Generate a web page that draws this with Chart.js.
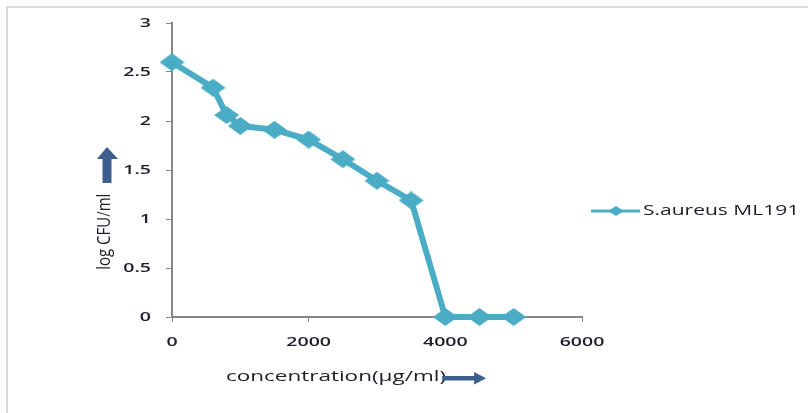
<!DOCTYPE html>
<html>
<head>
<meta charset="utf-8">
<script src="https://cdn.jsdelivr.net/npm/chart.js@4.4.1/dist/chart.umd.min.js"></script>
<style>
  html, body { margin: 0; padding: 0; background: #fff; }
  #wrap { position: relative; width: 808px; height: 413px; }
  canvas { display: block; }
</style>
</head>
<body>
<div id="wrap"><canvas id="chart" width="808" height="413"></canvas></div>
<script>
// data
const concentrations = [0, 600, 800, 1000, 1500, 2000, 2500, 3000, 3500, 4000, 4500, 5000];
const logCfu = [2.6, 2.34, 2.06, 1.95, 1.91, 1.81, 1.61, 1.39, 1.19, 0, 0, 0];
const seriesName = 'S.aureus ML191';
const xTickLabels = [0, 2000, 4000, 6000];
const yTickLabels = [0, 0.5, 1, 1.5, 2, 2.5, 3];
const xTitle = 'concentration(µg/ml)';
const yTitle = 'log CFU/ml';

const lineColor = '#4bacc6';
const arrowColor = '#3d5f8f';
const textColor = '#1e1e2c';
const axisColor = '#868686';
const fontFamily = '"Open Sans", "Liberation Sans", sans-serif';
// the original picture is stretched sideways, so text is drawn wider than normal
const textStretch = 1.5;

// wide diamond used as point style
function makeDiamond(w, h, color) {
    const cv = document.createElement('canvas');
    cv.width = w;
    cv.height = h;
    const g = cv.getContext('2d');
    g.fillStyle = color;
    g.beginPath();
    g.moveTo(w / 2, 0);
    g.lineTo(w, h / 2);
    g.lineTo(w / 2, h);
    g.lineTo(0, h / 2);
    g.closePath();
    g.fill();
    return cv;
}

// stretch every fillText around its anchor point while the chart draws
const stretch = {
    id: 'stretch',
    beforeDraw(chart) {
        const c = chart.ctx;
        if (c._plainFill) return;
        c._plainFill = c.fillText;
        c.fillText = function (t, x, y) {
            if (c._noStretch) return c._plainFill(t, x, y);
            c.save();
            c.translate(x, y);
            c.scale(textStretch, 1);
            c._plainFill(t, 0, 0);
            c.restore();
        };
    }
};

// frame, axis titles with arrows, and legend
const decor = {
    id: 'decor',
    beforeDraw(chart) {
        const c = chart.ctx;
        c.save();
        c.strokeStyle = '#d9d9d9';
        c.lineWidth = 2;
        c.beginPath();
        c.moveTo(7, 413);
        c.lineTo(7, 7);
        c.lineTo(808, 7);
        c.stroke();
        c.restore();
    },
    afterDraw(chart) {
        const c = chart.ctx;
        c.save();
        c.fillStyle = textColor;

        // x title
        c.font = '15px ' + fontFamily;
        c.textAlign = 'center';
        c.textBaseline = 'middle';
        const xt = chart.scales.x.getPixelForValue(2400);
        c.fillText(xTitle, xt, 377);
        const xEnd = xt + c.measureText(xTitle).width * textStretch / 2;

        // y title (rotated, thickened sideways)
        c.save();
        c.translate(105, chart.scales.y.getPixelForValue(0.87));
        c.rotate(-Math.PI / 2);
        c.scale(1, 1.2);
        c.font = '15px ' + fontFamily;
        c._noStretch = true;
        c.fillText(yTitle, 0, 0);
        c._noStretch = false;
        c.restore();

        // arrows
        c.fillStyle = arrowColor;
        c.beginPath();
        c.rect(xEnd - 4, 376, 34, 4.5);
        c.fill();
        c.beginPath();
        c.moveTo(xEnd + 28, 372);
        c.lineTo(xEnd + 40, 378.2);
        c.lineTo(xEnd + 28, 384.5);
        c.closePath();
        c.fill();
        c.beginPath();
        c.rect(102.5, 158, 9, 25);
        c.fill();
        c.beginPath();
        c.moveTo(97, 159);
        c.lineTo(107, 147);
        c.lineTo(118, 159);
        c.closePath();
        c.fill();

        // legend
        const ds = chart.data.datasets[0];
        const ly = 211;
        c.strokeStyle = ds.borderColor;
        c.lineWidth = 3;
        c.beginPath();
        c.moveTo(591, ly);
        c.lineTo(640, ly);
        c.stroke();
        c.fillStyle = ds.borderColor;
        c.beginPath();
        c.moveTo(616, ly - 5);
        c.lineTo(624, ly);
        c.lineTo(616, ly + 5);
        c.lineTo(608, ly);
        c.closePath();
        c.fill();
        c.fillStyle = textColor;
        c.font = '14px ' + fontFamily;
        c.textAlign = 'left';
        c.fillText(ds.label, 643, ly);
        c.restore();
    }
};

new Chart(document.getElementById('chart'), {
    type: 'line',
    data: {
        datasets: [{
            label: seriesName,
            data: concentrations.map((x, i) => ({ x: x, y: logCfu[i] })),
            borderColor: lineColor,
            backgroundColor: lineColor,
            borderWidth: 6,
            pointStyle: makeDiamond(25, 18, lineColor),
            tension: 0,
            fill: false
        }]
    },
    options: {
        responsive: false,
        animation: false,
        clip: false,
        layout: { padding: { left: 0, top: 23, right: 226, bottom: 0 } },
        plugins: {
            legend: { display: false },
            tooltip: { enabled: false }
        },
        scales: {
            x: {
                type: 'linear',
                min: 0,
                max: 6000,
                afterFit(s) { s.height = 96; },
                afterBuildTicks(s) { s.ticks = xTickLabels.map(v => ({ value: v })); },
                border: { color: axisColor, width: 2 },
                grid: { drawOnChartArea: false, drawTicks: true, tickLength: 5, color: axisColor },
                ticks: {
                    color: textColor,
                    padding: 12,
                    maxRotation: 0,
                    font: { family: fontFamily, size: 13, weight: '600' },
                    callback: v => String(v)
                }
            },
            y: {
                min: 0,
                max: 3,
                afterFit(s) { s.width = 172; },
                afterBuildTicks(s) { s.ticks = yTickLabels.map(v => ({ value: v })); },
                border: { color: axisColor, width: 2 },
                grid: { drawOnChartArea: false, drawTicks: true, tickLength: 6, color: axisColor },
                ticks: {
                    color: textColor,
                    padding: 15,
                    font: { family: fontFamily, size: 13, weight: '600' },
                    callback: v => String(v)
                }
            }
        }
    },
    plugins: [stretch, decor]
});
</script>
</body>
</html>
